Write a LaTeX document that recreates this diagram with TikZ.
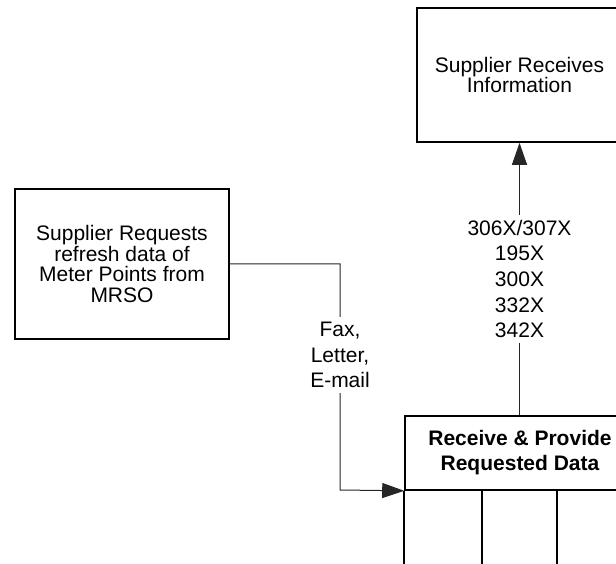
\documentclass[tikz,border=0pt]{standalone}
\usepackage{fontspec}
\setmainfont{Liberation Sans}
\usetikzlibrary{arrows.meta}
\begin{document}
\begin{tikzpicture}[x=1pt,y=-1pt,
  box/.style={draw=black,line width=1.6pt,fill=white,inner sep=0pt,align=center,
    font=\fontsize{21}{20.5}\selectfont},
  conn/.style={draw=black!85,line width=1pt},
  tip/.style={-{Triangle[length=22pt,width=15pt]}},
  lbl/.style={fill=white,align=center,inner sep=5pt,font=\fontsize{21}{25.7}\selectfont}]
\useasboundingbox (0,0) rectangle (616,564);
% boxes
\node[box,minimum width=205pt,minimum height=134pt] (top) at (519.5,75) {Supplier Receives\\Information};
\node[box,minimum width=214pt,minimum height=150pt] (req) at (122,264) {Supplier Requests\\refresh data of\\Meter Points from\\MRSO};
\node[box,minimum width=230pt,minimum height=74pt,font=\fontsize{21}{25}\selectfont\bfseries] (hdr) at (520,453) {Receive \& Provide\\Requested Data};
\draw[line width=1.6pt] (hdr.south west) -- ++(0,90);
\draw[line width=1.6pt] (482,490) -- (482,580);
\draw[line width=1.6pt] (557,490) -- (557,580);
% connectors
\draw[conn,tip] (hdr.north -| top.south) -- node[lbl,midway] {306X/307X\\195X\\300X\\332X\\342X} (top.south);
\coordinate (bend) at (340,490);
\draw[conn,tip] (req.east) -| (bend) -- (hdr.south west);
\node[lbl] (media) at (340,355) {Fax,\\Letter,\\E-mail};
\end{tikzpicture}
\end{document}
